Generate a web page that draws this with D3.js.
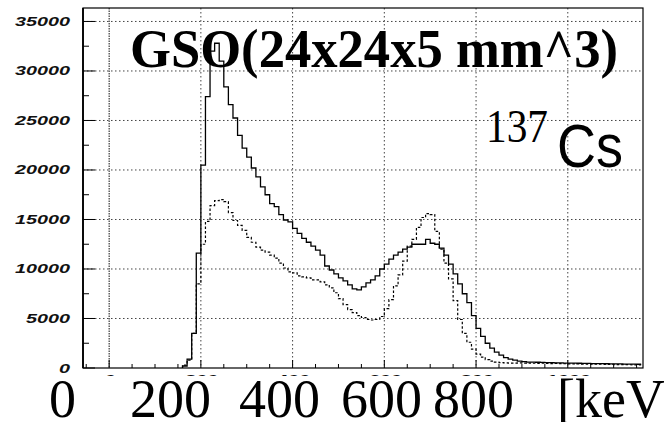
<!DOCTYPE html>
<html>
<head>
<meta charset="utf-8">
<script src="https://cdn.jsdelivr.net/npm/d3@7"></script>
<style>
  html, body { margin: 0; padding: 0; background: #fff; }
  svg { display: block; }
</style>
</head>
<body>
<svg id="chart" width="664" height="422"></svg>
<script>
// Energy spectrum of a 137Cs source measured with a GSO crystal (two runs)
const binStart = 160;   // keV, lower edge of the first bin
const binWidth = 10;    // keV

// counts per bin, solid histogram
const countsSolid = [
  200, 900, 3500, 11600, 20500, 27400, 32000, 32800, 31000, 28400,
  26600, 25250, 23500, 22200, 21300, 20200, 19300, 18300, 17500, 16600,
  16300, 15500, 14950, 14750, 14100, 13600, 13100, 12700, 12300, 11900,
  11400, 10300, 9900, 9500, 9100, 8800, 8400, 8000, 7900, 8200,
  8600, 8900, 9300, 10000, 10500, 11000, 11400, 11700, 12000, 12200,
  12500, 12500, 12500, 13000, 12600, 12500, 12100, 11400, 10500, 9500,
  8500, 7500, 6600, 5300, 4000, 3200, 2500, 2000, 1600, 1300,
  1050, 900, 800, 700, 650, 600, 600, 580, 560, 550,
  540, 520, 520, 500, 500, 490, 480, 470, 460, 450,
  450, 440, 430, 420, 420, 410, 400, 400, 390, 380
];

// counts per bin, dotted histogram
const countsDotted = [
  300, 800, 3500, 8500, 12500, 14800, 16400, 16900, 17000, 16800,
  15700, 14900, 14400, 13900, 13200, 12700, 12200, 11900, 11700, 11400,
  11100, 10600, 10100, 9700, 9600, 9300, 9200, 9100, 8900, 8900,
  8700, 8400, 8100, 7600, 7000, 6400, 5900, 5600, 5300, 5100,
  4900, 4850, 4900, 5200, 6000, 6900, 8300, 9400, 10800, 12300,
  13000, 14200, 15200, 15600, 15500, 13800, 12000, 10600, 9000, 6800,
  4900, 3500, 2600, 1900, 1400, 1100, 850, 700, 600, 550,
  520, 500, 500, 510, 490, 500, 480, 470, 480, 460,
  450, 460, 440, 430, 420, 420, 410, 400, 400, 390,
  380, 380, 370, 360, 350, 350, 340, 330, 320, 310
];

const yTickValues = [0, 5000, 10000, 15000, 20000, 25000, 30000, 35000];
const xTickValues = [0, 200, 400, 600, 800, 1000];
const bigXLabels = ["0", "200", "400", "600", "800", "[keV"];
const titleText = "GSO(24x24x5 mm^3)";
const isotopeMass = "137";
const isotopeName = "Cs";

const svg = d3.select("#chart");
const frame = { left: 83, right: 643, top: 8, bottom: 368 };

const x = d3.scaleLinear().domain([-57, 1164]).range([frame.left, frame.right]);
const y = d3.scaleLinear().domain([0, 36360]).range([frame.bottom, frame.top]);

// grid
const grid = svg.append("g").attr("class", "grid");
grid.selectAll("line.gy").data(yTickValues.filter(d => d > 0)).join("line")
  .attr("x1", frame.left).attr("x2", frame.right)
  .attr("y1", d => y(d)).attr("y2", d => y(d))
  .attr("stroke", "#444").attr("stroke-width", 1).attr("stroke-dasharray", "1.5,2.5");
grid.selectAll("line.gx").data(xTickValues).join("line")
  .attr("x1", d => x(d)).attr("x2", d => x(d))
  .attr("y1", frame.top).attr("y2", frame.bottom)
  .attr("stroke", d => d === 0 ? "#111" : "#444")
  .attr("stroke-width", 1)
  .attr("stroke-dasharray", d => d === 0 ? "1.5,1" : "1.5,2.5");

// axes with inward ticks
const xMinor = d3.range(-50, 1164, 50).filter(d => d % 200 !== 0);
const yMinor = d3.range(2500, 36360, 5000);
const axG = svg.append("g");
axG.selectAll("line.xt").data(xMinor).join("line")
  .attr("x1", d => x(d)).attr("x2", d => x(d))
  .attr("y1", frame.bottom).attr("y2", frame.bottom - 4)
  .attr("stroke", "#000");
axG.selectAll("line.xT").data(xTickValues).join("line")
  .attr("x1", d => x(d)).attr("x2", d => x(d))
  .attr("y1", frame.bottom).attr("y2", frame.bottom - 8)
  .attr("stroke", "#000");
axG.selectAll("line.yt").data(yMinor).join("line")
  .attr("x1", frame.left).attr("x2", frame.left + 6)
  .attr("y1", d => y(d)).attr("y2", d => y(d))
  .attr("stroke", "#000");
axG.selectAll("line.yT").data(yTickValues).join("line")
  .attr("x1", frame.left).attr("x2", frame.left + 12)
  .attr("y1", d => y(d)).attr("y2", d => y(d))
  .attr("stroke", "#000");

// histograms
function histPoints(counts) {
  const pts = [[binStart, 0]];
  counts.forEach((c, i) => pts.push([binStart + i * binWidth, c]));
  pts.push([binStart + counts.length * binWidth, counts[counts.length - 1]]);
  return pts;
}
const line = d3.line().x(d => x(d[0])).y(d => y(d[1])).curve(d3.curveStepAfter);

svg.append("path").attr("d", line(histPoints(countsDotted)))
  .attr("fill", "none").attr("stroke", "#000").attr("stroke-width", 1.2)
  .attr("stroke-dasharray", "2.5,2");
svg.append("path").attr("d", line(histPoints(countsSolid)))
  .attr("fill", "none").attr("stroke", "#000").attr("stroke-width", 1.3);

// frame
svg.append("rect")
  .attr("x", frame.left).attr("y", frame.top)
  .attr("width", frame.right - frame.left).attr("height", frame.bottom - frame.top)
  .attr("fill", "none").attr("stroke", "#000").attr("stroke-width", 1.2);
svg.append("line").attr("x1", frame.left).attr("x2", frame.left)
  .attr("y1", frame.top).attr("y2", frame.bottom).attr("stroke", "#000").attr("stroke-width", 1.8);

// y tick labels (wide italic digits)
svg.append("g").selectAll("text").data(yTickValues).join("text")
  .attr("x", d => 70 - (String(d).length * 11))
  .attr("y", d => y(d) + 4.5)
  .attr("textLength", d => String(d).length * 11)
  .attr("lengthAdjust", "spacingAndGlyphs")
  .attr("font-family", "Liberation Sans, Arial, sans-serif")
  .attr("font-style", "italic").attr("font-weight", "bold")
  .attr("font-size", 12.5).attr("fill", "#111")
  .text(d => d);

// small x tick labels
svg.append("g").selectAll("text").data(xTickValues).join("text")
  .attr("x", d => x(d) - String(d).length * 5.5)
  .attr("y", 384)
  .attr("textLength", d => String(d).length * 11)
  .attr("lengthAdjust", "spacingAndGlyphs")
  .attr("font-family", "Liberation Sans, Arial, sans-serif")
  .attr("font-style", "italic").attr("font-weight", "bold")
  .attr("font-size", 12.5).attr("fill", "#111")
  .text(d => d);

// large energy labels on a white strip
svg.append("rect").attr("x", 0).attr("y", 376).attr("width", 664).attr("height", 46).attr("fill", "#fff");
const bigX = [49, 130, 239, 341, 433, 557];
svg.append("g").selectAll("text").data(bigXLabels).join("text")
  .attr("x", (d, i) => bigX[i]).attr("y", 417)
  .attr("font-family", "Liberation Serif, 'Times New Roman', serif")
  .attr("font-size", 54).attr("fill", "#000")
  .text(d => d);

// title
svg.append("text")
  .attr("x", 130).attr("y", 67)
  .attr("textLength", 488).attr("lengthAdjust", "spacingAndGlyphs")
  .attr("font-family", "Liberation Serif, 'Times New Roman', serif")
  .attr("font-weight", "bold").attr("font-size", 55).attr("fill", "#000")
  .text(titleText);

// isotope label
svg.append("text")
  .attr("x", 486).attr("y", 142)
  .attr("textLength", 62).attr("lengthAdjust", "spacingAndGlyphs")
  .attr("font-family", "Liberation Serif, 'Times New Roman', serif")
  .attr("font-size", 46).attr("fill", "#000")
  .text(isotopeMass);
svg.append("text")
  .attr("x", 557).attr("y", 167)
  .attr("textLength", 66).attr("lengthAdjust", "spacingAndGlyphs")
  .attr("font-family", "Liberation Sans, Arial, sans-serif")
  .attr("font-size", 61).attr("fill", "#000")
  .text(isotopeName);
</script>
</body>
</html>
